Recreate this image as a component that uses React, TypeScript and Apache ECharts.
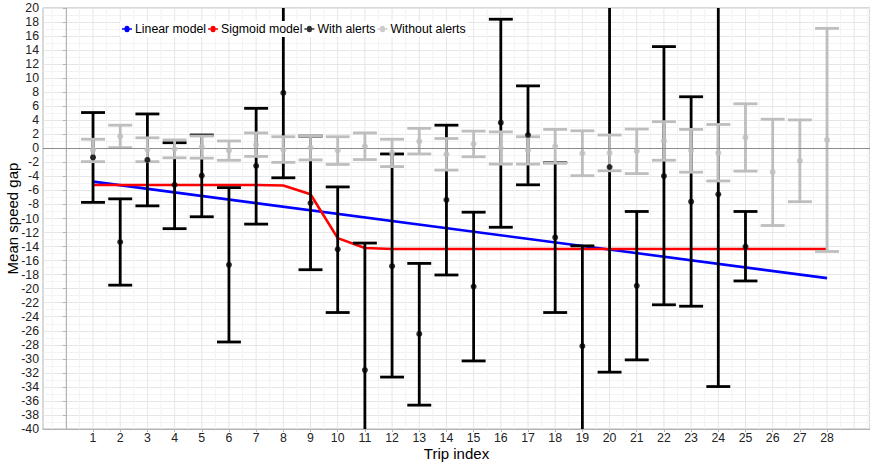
import React, { useEffect, useRef } from "react";
import * as echarts from "echarts";

// ---- Data ----
const tripTicks = [1, 2, 3, 4, 5, 6, 7, 8, 9, 10, 11, 12, 13, 14, 15, 16, 17, 18, 19, 20, 21, 22, 23, 24, 25, 26, 27, 28];

const withTrips = [1, 2, 3, 4, 5, 6, 7, 8, 9, 10, 11, 12, 13, 14, 15, 16, 17, 18, 19, 20, 21, 22, 23, 24, 25];
const withMean = [-1.3, -13.35, -1.65, -5.2, -3.9, -16.6, -2.5, 7.9, -7.8, -14.4, -31.6, -16.8, -26.45, -7.35, -19.7, 3.65, 1.9, -12.7, -28.2, -2.66, -19.6, -3.95, -7.6, -6.55, -14.0];
const withLo = [-7.7, -19.5, -8.2, -11.45, -9.75, -27.6, -10.8, -4.2, -17.3, -23.4, -49.7, -32.6, -36.6, -18.05, -30.3, -11.25, -5.2, -23.4, -42.5, -31.9, -30.15, -22.3, -22.5, -33.95, -18.9];
const withHi = [5.1, -7.2, 4.9, 0.8, 1.9, -5.6, 5.7, 21.0, 1.75, -5.5, -13.5, -0.8, -16.4, 3.3, -9.1, 18.4, 8.9, -2.05, -13.9, 26.6, -9.0, 14.5, 7.35, 20.9, -9.0];

const withoutTrips = tripTicks;
const withoutMean = [-0.25, 1.7, -0.2, -0.1, 0.2, -0.3, 0.5, -0.2, 0.1, -0.3, 0.3, -0.65, 1.0, -0.85, 0.6, 0.05, -0.3, 0.3, -0.7, -0.65, -0.4, 1.05, -0.35, -0.65, 1.55, -3.4, -1.8, 1.2];
const withoutLo = [-1.9, 0.1, -1.9, -1.35, -1.4, -1.7, -1.15, -2.0, -1.65, -2.3, -1.6, -2.6, -0.8, -3.1, -1.2, -2.25, -2.25, -2.1, -3.9, -3.2, -3.6, -1.7, -3.4, -4.65, -3.25, -11.0, -7.6, -14.7];
const withoutHi = [1.3, 3.3, 1.5, 1.2, 1.75, 1.05, 2.2, 1.65, 1.8, 1.65, 2.2, 1.3, 2.85, 1.4, 2.45, 2.35, 1.65, 2.7, 2.5, 1.9, 2.75, 3.8, 2.7, 3.4, 6.35, 4.15, 4.05, 17.1];

const linearX = [1, 28];
const linearY = [-4.75, -18.5];

const sigmoidY = [-5.22, -5.22, -5.22, -5.22, -5.22, -5.22, -5.23, -5.3, -6.55, -12.8, -14.2, -14.35, -14.35, -14.35, -14.35, -14.35, -14.35, -14.35, -14.35, -14.35, -14.35, -14.35, -14.35, -14.35, -14.35, -14.35, -14.35, -14.35];

const majorGridX = [0, 1, 2, 3, 4, 5, 6, 7, 8, 9, 10, 11, 12, 13, 14, 15, 16, 17, 18, 19, 20, 21, 22, 23, 24, 25, 26, 27, 28, 29];
const minorGridX = [-0.5, 0.5, 1.5, 2.5, 3.5, 4.5, 5.5, 6.5, 7.5, 8.5, 9.5, 10.5, 11.5, 12.5, 13.5, 14.5, 15.5, 16.5, 17.5, 18.5, 19.5, 20.5, 21.5, 22.5, 23.5, 24.5, 25.5, 26.5, 27.5, 28.5, 29.5];

const FONT = "'Liberation Sans', Arial, sans-serif";
const BLACK = "#000000";
const GREY = "#bebebe";
const CAP_HALF = 0.44;

const legendIcon = "path://M0,4H3A3,3,0,0,1,9,4H12V6H9A3,3,0,0,1,3,6H0Z";

function errorBarRender(color: string) {
  return (params: any, api: any) => {
    const x = api.value(0);
    const lo = api.value(1);
    const hi = api.value(2);
    const top = api.coord([x, hi]);
    const bot = api.coord([x, lo]);
    const hw = api.size([CAP_HALF, 0])[0];
    const style = { stroke: color, lineWidth: 2.8, fill: "none" };
    return {
      type: "group",
      children: [
        { type: "line", shape: { x1: top[0], y1: top[1], x2: bot[0], y2: bot[1] }, style },
        { type: "line", shape: { x1: top[0] - hw, y1: top[1], x2: top[0] + hw, y2: top[1] }, style },
        { type: "line", shape: { x1: bot[0] - hw, y1: bot[1], x2: bot[0] + hw, y2: bot[1] }, style },
      ],
    };
  };
}

function gridRender(color: string) {
  return (params: any, api: any) => {
    const x = api.value(0);
    const p = api.coord([x, 0]);
    const cs = params.coordSys;
    return {
      type: "line",
      shape: { x1: p[0], y1: cs.y, x2: p[0], y2: cs.y + cs.height },
      style: { stroke: color, lineWidth: 1 },
      silent: true,
    };
  };
}

export default function App() {
  const ref = useRef<HTMLDivElement>(null);
  useEffect(() => {
    const chart = echarts.init(ref.current!, null, { renderer: "svg" });
    const option: any = {
      animation: false,
      backgroundColor: "#ffffff",
      textStyle: { fontFamily: FONT },
      grid: {
        left: 43,
        right: 0,
        top: 8,
        bottom: 36,
        outerBoundsMode: "none",
        containLabel: false,
        show: true,
        borderColor: "#b3b3b3",
        borderWidth: 1,
      },
      legend: {
        left: 120,
        top: 21,
        icon: legendIcon,
        itemWidth: 10,
        itemHeight: 8,
        itemGap: 2,
        backgroundColor: "#ffffff",
        padding: [2, 2, 2, 2],
        textStyle: { fontSize: 12.3, color: "#000", fontFamily: FONT, padding: [0, 0, 0, -2] },
        data: ["Linear model", "Sigmoid model", "With alerts", "Without alerts"],
      },
      xAxis: {
        type: "value",
        min: -0.84,
        max: 29.58,
        name: "Trip index",
        nameLocation: "middle",
        nameGap: 17,
        nameMoveOverlap: false,
        nameTextStyle: { fontSize: 15, lineHeight: 15, color: "#000", fontFamily: FONT, verticalAlign: "top" },
        axisLine: { show: true, onZero: false, lineStyle: { color: "#b3b3b3", width: 1 } },
        axisTick: { show: true, length: 3, lineStyle: { color: "#b3b3b3" }, customValues: tripTicks },
        axisLabel: { fontSize: 12.3, lineHeight: 12, color: "#222", margin: 3, customValues: tripTicks, fontFamily: FONT },
        splitLine: { show: false },
      },
      yAxis: {
        type: "value",
        min: -40,
        max: 20,
        interval: 2,
        name: "Mean speed gap",
        nameLocation: "middle",
        nameGap: 23,
        nameMoveOverlap: false,
        nameTextStyle: { fontSize: 15, color: "#000", fontFamily: FONT },
        axisLine: { show: true, lineStyle: { color: "#b3b3b3", width: 1 } },
        axisTick: { show: true, length: 3, lineStyle: { color: "#b3b3b3" } },
        axisLabel: { fontSize: 12.3, color: "#222", margin: 4, fontFamily: FONT },
        splitLine: { show: true, lineStyle: { color: "#e6e6e6", width: 1 } },
        minorTick: { show: false, splitNumber: 2 },
        minorSplitLine: { show: true, lineStyle: { color: "#f3f3f3", width: 1 } },
      },
      series: [
        {
          name: "minorGrid",
          type: "custom",
          silent: true,
          z: 0,
          renderItem: gridRender("#f3f3f3"),
          encode: { x: 0 },
          data: minorGridX.map((v) => [v]),
        },
        {
          name: "majorGrid",
          type: "custom",
          silent: true,
          z: 0,
          renderItem: gridRender("#e6e6e6"),
          encode: { x: 0 },
          data: majorGridX.map((v) => [v]),
        },
        {
          name: "Linear model",
          type: "line",
          z: 2,
          color: "#0000ff",
          symbol: "none",
          lineStyle: { color: "#0000ff", width: 2.6 },
          data: linearX.map((x, i) => [x, linearY[i]]),
          markLine: {
            silent: true,
            symbol: "none",
            label: { show: false },
            lineStyle: { color: "#8c8c8c", width: 1, type: "solid" },
            data: [{ yAxis: 0 }],
          },
        },
        {
          name: "Sigmoid model",
          type: "line",
          z: 2,
          color: "#ff0000",
          symbol: "none",
          lineStyle: { color: "#ff0000", width: 2.6 },
          data: tripTicks.map((x, i) => [x, sigmoidY[i]]),
        },
        {
          name: "withBars",
          type: "custom",
          z: 3,
          clip: true,
          renderItem: errorBarRender(BLACK),
          encode: { x: 0, y: [1, 2] },
          data: withTrips.map((x, i) => [x, withLo[i], withHi[i]]),
        },
        {
          name: "withoutBars",
          type: "custom",
          z: 4,
          clip: true,
          renderItem: errorBarRender(GREY),
          encode: { x: 0, y: [1, 2] },
          data: withoutTrips.map((x, i) => [x, withoutLo[i], withoutHi[i]]),
        },
        {
          name: "With alerts",
          type: "scatter",
          z: 5,
          color: BLACK,
          symbolSize: 6,
          itemStyle: { color: BLACK },
          data: withTrips.map((x, i) => [x, withMean[i]]),
        },
        {
          name: "Without alerts",
          type: "scatter",
          z: 6,
          color: GREY,
          symbolSize: 6,
          itemStyle: { color: GREY },
          data: withoutTrips.map((x, i) => [x, withoutMean[i]]),
        },
      ],
    };
    chart.setOption(option);
    return () => chart.dispose();
  }, []);
  return <div ref={ref} style={{ position: "fixed", left: 0, top: 0, width: 870, height: 465 }} />;
}
